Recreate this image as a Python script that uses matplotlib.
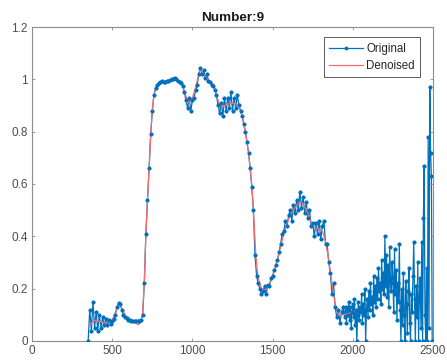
import numpy as np
import matplotlib
matplotlib.use("Agg")
import matplotlib.pyplot as plt

plt.rcParams['font.family'] = ['Liberation Sans', 'DejaVu Sans']

# Original signal: every 10 units from 350 to 1940, every 5 units from 1950 to 2500
orig_x = np.concatenate([np.arange(350, 1950, 10), np.arange(1950, 2501, 5)])
orig_y = [
    # 350 - 1940 (step 10)
    0.00, 0.12, 0.04, 0.15, 0.05, 0.11, 0.04, 0.10, 0.05, 0.09,
    0.06, 0.085, 0.06, 0.08, 0.065, 0.075, 0.085, 0.10, 0.13, 0.145,
    0.14, 0.12, 0.10, 0.092, 0.086, 0.082, 0.08, 0.078, 0.077, 0.076,
    0.075, 0.075, 0.077, 0.082, 0.10, 0.22, 0.41, 0.54, 0.66, 0.79,
    0.88, 0.94, 0.965, 0.978, 0.985, 0.99, 0.992, 0.99, 0.99, 0.993,
    0.995, 0.998, 1.0, 1.003, 1.005, 1.0, 0.995, 0.99, 0.985, 0.975,
    0.95, 0.92, 0.89, 0.93, 0.88, 0.92, 0.93, 0.96, 0.98, 1.02,
    1.045, 1.02, 1.035, 1.005, 1.02, 0.995, 0.99, 0.98, 0.975, 0.96,
    0.94, 0.90, 0.87, 0.91, 0.86, 0.93, 0.88, 0.93, 0.89, 0.95,
    0.88, 0.93, 0.89, 0.94, 0.90, 0.88, 0.86, 0.83, 0.80, 0.76,
    0.72, 0.66, 0.59, 0.50, 0.33, 0.25, 0.22, 0.20, 0.18, 0.19,
    0.21, 0.18, 0.215, 0.21, 0.24, 0.25, 0.27, 0.29, 0.31, 0.34,
    0.37, 0.41, 0.42, 0.46, 0.44, 0.48, 0.50, 0.46, 0.52, 0.49,
    0.54, 0.50, 0.57, 0.51, 0.55, 0.49, 0.53, 0.47, 0.50, 0.44,
    0.45, 0.40, 0.45, 0.41, 0.46, 0.39, 0.44, 0.46, 0.37, 0.37,
    0.30, 0.26, 0.18, 0.22, 0.13, 0.09, 0.12, 0.07, 0.11, 0.13,
    # 1950 - 2500 (step 5)
    0.09, 0.13, 0.07, 0.12, 0.10, 0.15, 0.08, 0.13, 0.05, 0.11,
    0.14, 0.09, 0.16, 0.06, 0.12, 0.00, 0.10, 0.15, 0.08, 0.13,
    0.11, 0.18, 0.07, 0.14, 0.10, 0.20, 0.00, 0.12, 0.16, 0.09,
    0.19, 0.12, 0.22, 0.14, 0.17, 0.10, 0.25, 0.15, 0.21, 0.13,
    0.24, 0.16, 0.28, 0.19, 0.22, 0.14, 0.31, 0.20, 0.26, 0.18,
    0.40, 0.21, 0.33, 0.17, 0.29, 0.13, 0.36, 0.22, 0.19, 0.30,
    0.24, 0.11, 0.35, 0.18, 0.27, 0.08, 0.22, 0.15, 0.37, 0.12,
    0.00, 0.20, 0.06, 0.26, 0.10, 0.00, 0.23, 0.14, 0.03, 0.19,
    0.28, 0.07, 0.00, 0.18, 0.11, 0.25, 0.38, 0.16, 0.00, 0.21,
    0.09, 0.30, 0.00, 0.17, 0.24, 0.05, 0.38, 0.00, 0.47, 0.67,
    0.10, 0.00, 0.28, 0.00, 0.78, 0.05, 0.97, 0.72, 0.63, 0.00,
    0.00,
]

# Denoised signal
den_x = [360, 380, 400, 420, 440, 460, 480, 500, 520, 540, 550, 560, 580, 600,
         620, 640, 660, 670, 680, 690, 700, 710, 720, 730, 740, 750, 760, 780,
         800, 850, 900, 940, 960, 980, 1000, 1020, 1040, 1050, 1070, 1100, 1130,
         1150, 1170, 1190, 1220, 1260, 1290, 1310, 1330, 1350, 1370, 1385, 1395,
         1410, 1430, 1450, 1470, 1490, 1510, 1530, 1550, 1570, 1590, 1610, 1640,
         1670, 1690, 1710, 1730, 1750, 1780, 1810, 1830, 1850, 1870, 1890, 1910,
         1940, 1970, 2000, 2030]
den_y = [0.06, 0.075, 0.08, 0.075, 0.07, 0.072, 0.075, 0.08, 0.11, 0.14, 0.14,
         0.125, 0.10, 0.085, 0.078, 0.072, 0.062, 0.065, 0.08, 0.11, 0.22, 0.41,
         0.54, 0.66, 0.79, 0.88, 0.94, 0.978, 0.99, 0.995, 1.005, 0.975, 0.935,
         0.91, 0.93, 0.97, 1.02, 1.04, 1.02, 1.0, 0.98, 0.94, 0.90, 0.895, 0.905,
         0.91, 0.90, 0.86, 0.80, 0.72, 0.60, 0.45, 0.33, 0.24, 0.20, 0.195, 0.205,
         0.23, 0.27, 0.31, 0.36, 0.41, 0.45, 0.48, 0.51, 0.53, 0.525, 0.50, 0.47,
         0.44, 0.43, 0.42, 0.38, 0.31, 0.22, 0.14, 0.10, 0.10, 0.105, 0.11, 0.12]

title = "Number:9"
x_ticks = [0, 500, 1000, 1500, 2000, 2500]
y_ticks = [0, 0.2, 0.4, 0.6, 0.8, 1, 1.2]
y_tick_labels = ["0", "0.2", "0.4", "0.6", "0.8", "1", "1.2"]

blue = '#0072BD'
red = '#FF6A6A'

fig = plt.figure(figsize=(4.47, 3.6), dpi=100)
ax = fig.add_axes([0.0716, 0.0528, 0.8971, 0.8722])

ax.plot(orig_x, orig_y, color=blue, lw=0.9, marker='.', ms=3.5,
        label='Original', zorder=1)
ax.plot(den_x, den_y, color=red, lw=0.9, label='Denoised', zorder=2)
ax.plot(orig_x, orig_y, color=blue, lw=0, marker='.', ms=3.5, zorder=3)

ax.set_xlim(0, 2500)
ax.set_ylim(0, 1.2)
ax.set_xticks(x_ticks)
ax.set_yticks(y_ticks)
ax.set_yticklabels(y_tick_labels)

gray = '#4D4D4D'
for s in ax.spines.values():
    s.set_color('#8C8C8C')
    s.set_linewidth(0.8)
ax.tick_params(direction='in', length=2.5, width=0.6, colors='#8C8C8C',
               labelcolor=gray, labelsize=8.5, top=True, right=True, pad=3)

ax.set_title(title, fontsize=9.7, fontweight='bold', color='#1a1a1a', pad=4)

leg = ax.legend(loc='upper right', fontsize=8.3, frameon=True, fancybox=False,
                edgecolor='#333333', handlelength=2.9, borderpad=0.45,
                labelspacing=0.45, handletextpad=0.3, borderaxespad=0,
                bbox_to_anchor=(0.968, 0.967))
leg.get_frame().set_linewidth(0.7)
for t in leg.get_texts():
    t.set_color('#262626')

fig.savefig('out.png', dpi=100)
